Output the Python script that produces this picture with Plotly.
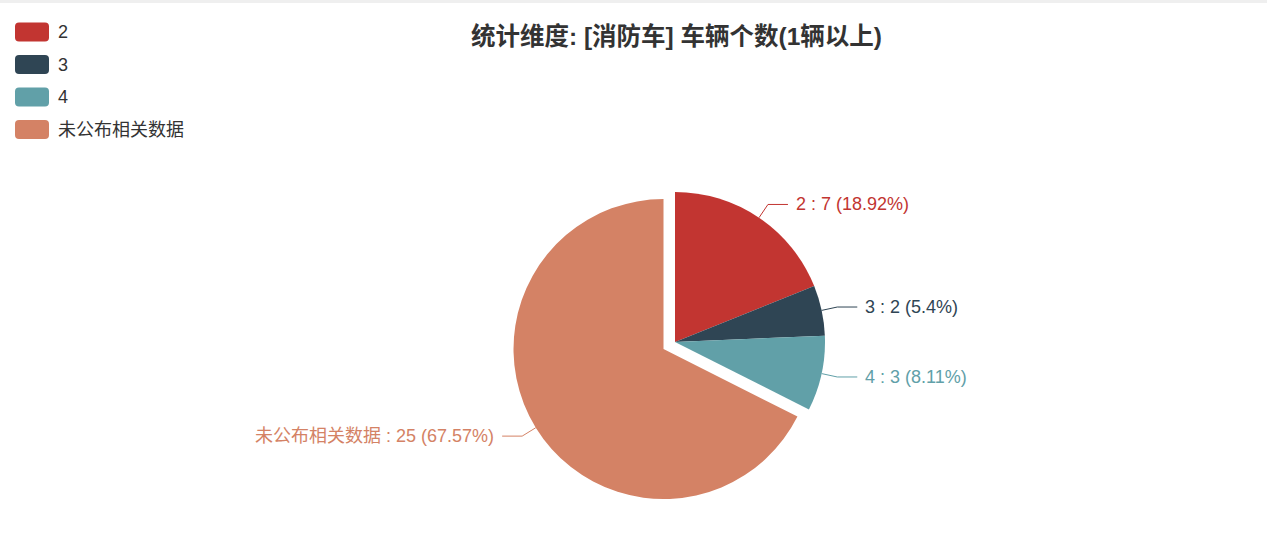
import math
import plotly.graph_objects as go

# data
names = ["2", "3", "4", "未公布相关数据"]
values = [7, 2, 3, 25]
colors = ["#c23531", "#2f4554", "#61a0a8", "#d48265"]
pulls = [0, 0, 0, 0.09]
title_text = "统计维度: [消防车] 车辆个数(1辆以上)"

W, H = 1267, 554
cx, cy, r = 675, 342, 150
font_family = "Liberation Sans, Noto Sans CJK SC, sans-serif"


def px(x):
    return x / W


def py(y):
    return 1 - y / H


# percentages with largest-remainder rounding (2 decimals), like echarts
total = sum(values)
raw = [v * 10000 / total for v in values]
floors = [int(math.floor(x)) for x in raw]
left = 10000 - sum(floors)
order = sorted(range(len(raw)), key=lambda i: raw[i] - floors[i], reverse=True)
for i in order[:left]:
    floors[i] += 1
pcts = [f"{f / 100:g}" for f in floors]

half = r * (1 + max(pulls))
fig = go.Figure(go.Pie(
    labels=names,
    values=values,
    sort=False,
    direction="clockwise",
    rotation=0,
    pull=pulls,
    marker=dict(colors=colors, line=dict(width=0)),
    textinfo="none",
    hoverinfo="label+value+percent",
    domain=dict(x=[px(cx - half), px(cx + half)], y=[py(cy + half), py(cy - half)]),
    showlegend=False,
))

shapes = []
annotations = []

# leader lines and labels
start = 0.0
for name, v, col, pl, pc in zip(names, values, colors, pulls, pcts):
    ang = v / total * 360
    mid = math.radians(start + ang / 2)
    start += ang
    s, c = math.sin(mid), math.cos(mid)
    ox, oy = cx + pl * r * s, cy - pl * r * c
    x0, y0 = ox + r * s, oy - r * c
    x1, y1 = ox + (r + 16) * s, oy - (r + 16) * c
    side = 1 if s >= 0 else -1
    x2 = x1 + side * 20
    shapes.append(dict(
        type="path", xref="paper", yref="paper",
        path=f"M{px(x0)},{py(y0)} L{px(x1)},{py(y1)} L{px(x2)},{py(y1)}",
        line=dict(color=col, width=1),
    ))
    annotations.append(dict(
        x=px(x2 + side * 6), y=py(y1), xref="paper", yref="paper",
        text=f"{name} : {v} ({pc}%)", showarrow=False,
        xanchor="left" if side > 0 else "right", yanchor="middle",
        font=dict(size=18, color=col, family=font_family),
    ))

# legend (drawn by hand to get echarts-style rounded swatches)
for i, (name, col) in enumerate(zip(names, colors)):
    yc = 32 + i * 32.5
    xa, xb, ya, yb, k = 15, 49, yc - 9.5, yc + 9.5, 4
    path = (f"M{px(xa + k)},{py(ya)} L{px(xb - k)},{py(ya)} Q{px(xb)},{py(ya)} {px(xb)},{py(ya + k)} "
            f"L{px(xb)},{py(yb - k)} Q{px(xb)},{py(yb)} {px(xb - k)},{py(yb)} "
            f"L{px(xa + k)},{py(yb)} Q{px(xa)},{py(yb)} {px(xa)},{py(yb - k)} "
            f"L{px(xa)},{py(ya + k)} Q{px(xa)},{py(ya)} {px(xa + k)},{py(ya)} Z")
    shapes.append(dict(type="path", xref="paper", yref="paper", path=path,
                       fillcolor=col, line=dict(width=0)))
    annotations.append(dict(
        x=px(56), y=py(yc), xref="paper", yref="paper", text=name, showarrow=False,
        xanchor="left", yanchor="middle",
        font=dict(size=18, color="#333", family=font_family),
    ))

# title
annotations.append(dict(
    x=px(676), y=py(36), xref="paper", yref="paper", text=f"<b>{title_text}</b>",
    showarrow=False, xanchor="center", yanchor="middle",
    font=dict(size=24.5, color="#333", family=font_family),
))

# thin grey strip along the top edge
shapes.append(dict(type="rect", xref="paper", yref="paper", x0=0, x1=1, y0=py(3), y1=1,
                   fillcolor="#efefef", line=dict(width=0)))

fig.update_layout(
    width=W, height=H,
    margin=dict(l=0, r=0, t=0, b=0),
    paper_bgcolor="white",
    plot_bgcolor="white",
    shapes=shapes,
    annotations=annotations,
)

fig.write_html("out.html", config={"displayModeBar": False},
               post_script="document.body.style.margin='0';")
